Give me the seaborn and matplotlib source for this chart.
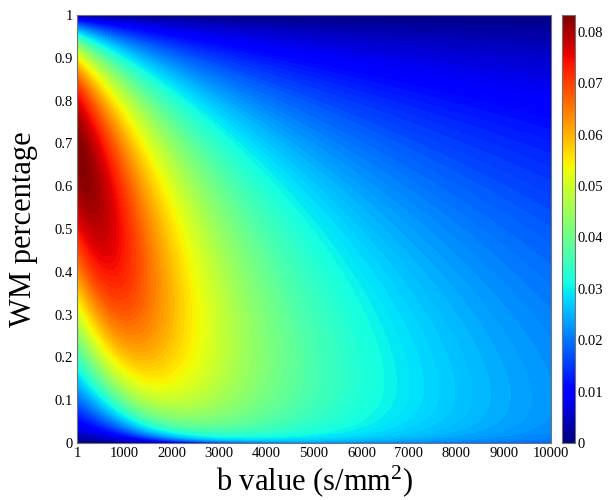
import numpy as np
import matplotlib
matplotlib.use("Agg")
import matplotlib.pyplot as plt
from matplotlib.colors import Normalize
from matplotlib.cm import ScalarMappable
import seaborn as sns

# Grid of the two swept quantities
b_values = np.linspace(1, 10000, 500)          # s/mm^2
wm_fraction = np.linspace(0, 1, 801)           # WM volume fraction

# Two-compartment model: diffusivities (mm^2/s) of WM and the other tissue
diffusivities = [2.8e-3, 5.9e-3]
adc_weight = [1.2]
contrast_exponent = [0.9]
peak_value = [0.0833]

x_ticks = [1, 1000, 2000, 3000, 4000, 5000, 6000, 7000, 8000, 9000, 10000]
x_tick_labels = ["1", "1000", "2000", "3000", "4000", "5000", "6000",
                 "7000", "8000", "9000", "10000"]
y_ticks = [0, 0.1, 0.2, 0.3, 0.4, 0.5, 0.6, 0.7, 0.8, 0.9, 1]
y_tick_labels = ["0", "0.1", "0.2", "0.3", "0.4", "0.5", "0.6", "0.7",
                 "0.8", "0.9", "1"]
cbar_ticks = [0, 0.01, 0.02, 0.03, 0.04, 0.05, 0.06, 0.07, 0.08]
cbar_tick_labels = ["0", "0.01", "0.02", "0.03", "0.04", "0.05", "0.06",
                    "0.07", "0.08"]

# Apparent kurtosis of the bi-exponential mixture (two-point estimate)
B, P = np.meshgrid(b_values, wm_fraction)
Q = 1.0 - P
d_wm, d_gm = diffusivities
with np.errstate(divide="ignore", invalid="ignore"):
    log_small = np.log1p(P * np.expm1(-B * d_wm) + Q * np.expm1(-B * d_gm))
    log_large = np.logaddexp(np.log(P) - B * d_wm, np.log(Q) - B * d_gm)
    log_s = np.where(B * d_gm < 1.0, log_small, log_large)
    adc = -log_s / B
    d_mean = P * d_wm + Q * d_gm
    m = adc_weight[0]
    kurt = 6.0 * (d_mean - adc) / (B * d_mean ** (2 - m) * adc ** m)
kurt = np.clip(np.nan_to_num(kurt, nan=0.0, posinf=0.0, neginf=0.0), 0, None)
field = kurt ** contrast_exponent[0]
field = field / field.max() * peak_value[0]

vmax = peak_value[0]

sns.set_theme(style="white")
plt.rcParams["font.family"] = ["Liberation Serif", "DejaVu Serif"]
plt.rcParams["mathtext.fontset"] = "custom"
plt.rcParams["mathtext.rm"] = "Liberation Serif"
plt.rcParams["mathtext.it"] = "Liberation Serif:italic"
plt.rcParams["text.color"] = "black"
plt.rcParams["axes.labelcolor"] = "black"

fig = plt.figure(figsize=(6.08, 5.0), dpi=100)
ax = fig.add_axes([77 / 608, 1 - 443 / 500, 474 / 608, 428 / 500])
cax = fig.add_axes([562 / 608, 1 - 443 / 500, 13 / 608, 428 / 500])

levels = np.linspace(0, vmax, 101)
ax.contourf(b_values, wm_fraction, field, levels=levels, cmap="jet",
            vmin=0, vmax=vmax, antialiased=False)

ax.set_xlim(1, 10000)
ax.set_ylim(0, 1)
ax.set_xticks(x_ticks)
ax.set_xticklabels(x_tick_labels)
ax.set_yticks(y_ticks)
ax.set_yticklabels(y_tick_labels)
ax.tick_params(direction="in", length=4, width=0.6, labelsize=10.5,
               top=True, right=True, bottom=True, left=True,
               colors="0.25", labelcolor="black", pad=3)
for sp in ax.spines.values():
    sp.set_color("0.45")
    sp.set_linewidth(0.8)

ax.set_xlabel(r"b value (s/mm$^{\mathrm{2}}$)", fontsize=22, labelpad=2,
              color="black")
ax.set_ylabel("WM percentage", fontsize=22, labelpad=12, color="black")

sm = ScalarMappable(norm=Normalize(0, vmax), cmap="jet")
cbar = fig.colorbar(sm, cax=cax)
cbar.set_ticks(cbar_ticks)
cbar.set_ticklabels(cbar_tick_labels)
cbar.ax.tick_params(direction="in", length=3, width=0.6, labelsize=10.5,
                    left=True, right=True, colors="0.25",
                    labelcolor="black", pad=2)
cbar.outline.set_edgecolor("0.45")
cbar.outline.set_linewidth(0.8)

fig.savefig("out.png", dpi=100)
